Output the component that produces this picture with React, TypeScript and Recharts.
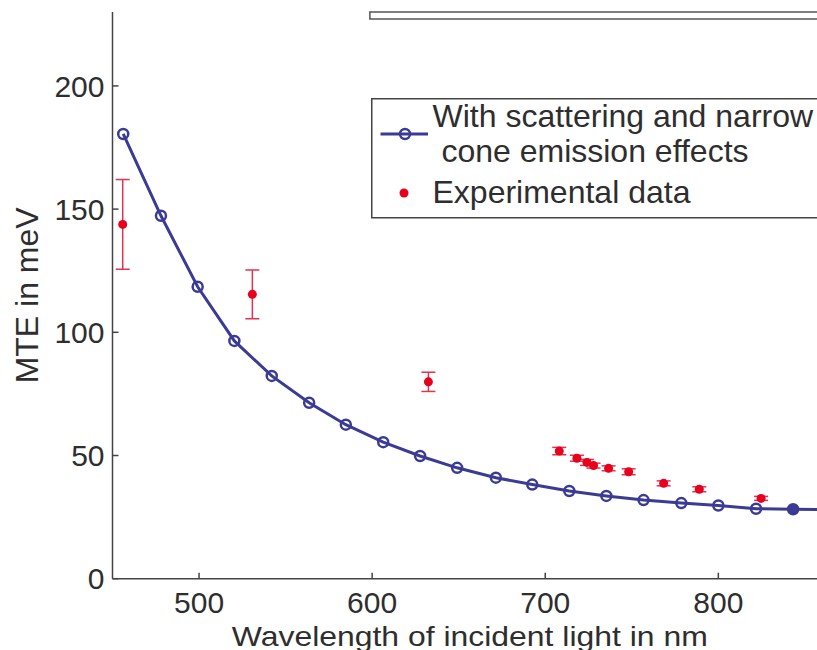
import React from 'react';
import {
  ComposedChart,
  Line,
  Scatter,
  XAxis,
  YAxis,
  ErrorBar,
  Legend,
  Label,
  ReferenceArea,
} from 'recharts';

// model curve (with scattering and narrow cone emission effects)
const modelWavelength = [
  456.2, 478.0, 499.2, 520.4, 542.0, 563.6, 584.8, 606.4, 627.7, 649.1,
  671.5, 692.5, 713.9, 735.3, 756.8, 778.6, 800.0, 821.8, 843.2, 864.6,
];
const modelMte = [
  180.5, 147.3, 118.5, 96.5, 82.3, 71.4, 62.5, 55.4, 49.8, 45.0,
  41.0, 38.2, 35.6, 33.6, 31.9, 30.7, 29.7, 28.4, 28.2, 28.0,
];

// experimental data with error bars
const expWavelength = [455.9, 530.8, 632.5, 708.1, 718.3, 724.1, 727.9, 736.6, 748.2, 768.4, 789.0, 824.7];
const expMte = [143.8, 115.4, 79.9, 51.8, 48.9, 47.2, 45.9, 44.8, 43.4, 38.7, 36.3, 32.6];
const expErr = [18.2, 9.9, 3.9, 1.5, 1.2, 1.2, 1.0, 1.0, 1.2, 1.0, 1.0, 0.8];

const xTicks = [500, 600, 700, 800];
const yTicks = [0, 50, 100, 150, 200];

const xTitle = 'Wavelength of incident light in nm';
const yTitle = 'MTE in meV';
const modelLabel = ['With scattering and narrow', ' cone emission effects'];
const expLabel = 'Experimental data';

const FONT = 'Arial, "Liberation Sans", Helvetica, sans-serif';
const BLUE = '#3b3b96';
const RED = '#e8001c';
const ERR_RED = '#e23350';
const AXIS = '#444';
const TEXT = '#2e2e2e';
const TICK_LEN = 6;
const X_GAP = 13;
const Y_GAP = 8;

const modelData = modelWavelength.map((x, i) => ({ x, y: modelMte[i] }));
const expData = expWavelength.map((x, i) => ({ x, y: expMte[i], err: expErr[i] }));

// tick marks point into the plot, matlab style
const BottomTick = (props: any) => {
  const { x, y, payload } = props;
  const axisY = y - X_GAP;
  return (
    <g>
      <line x1={x} y1={axisY} x2={x} y2={axisY - TICK_LEN} stroke={AXIS} strokeWidth={1.5} />
      <text x={x} y={y} dy="0.71em" textAnchor="middle" fontSize={30} fill={TEXT} fontFamily={FONT}>
        {payload.value}
      </text>
    </g>
  );
};

const TopTick = (props: any) => {
  const { x, y } = props;
  return <line x1={x} y1={y} x2={x} y2={y + TICK_LEN} stroke={AXIS} strokeWidth={1.5} />;
};

const LeftTick = (props: any) => {
  const { x, y, payload } = props;
  const axisX = x + Y_GAP;
  return (
    <g>
      <line x1={axisX} y1={y} x2={axisX + TICK_LEN} y2={y} stroke={AXIS} strokeWidth={1.5} />
      <text x={x} y={y} dy="0.355em" textAnchor="end" fontSize={30} fill={TEXT} fontFamily={FONT}>
        {payload.value}
      </text>
    </g>
  );
};

// the x title in the source is a bit wider than plain Arial, so stretch it
const XTitle = (props: any) => {
  const vb = props.viewBox || {};
  const cx = vb.x + vb.width / 2 + 5;
  return (
    <text
      x={cx - 238}
      y={vb.y + vb.height - 4.5}
      fontSize={28}
      fill={TEXT}
      fontFamily={FONT}
      textLength={476}
      lengthAdjust="spacingAndGlyphs"
    >
      {xTitle}
    </text>
  );
};

const renderModelDot = (props: any) => {
  const { cx, cy, index } = props;
  const filled = index === modelWavelength.length - 2;
  return (
    <circle
      key={`m-${index}`}
      cx={cx}
      cy={cy}
      r={5}
      fill={filled ? BLUE : 'none'}
      stroke={BLUE}
      strokeWidth={2.5}
    />
  );
};

const renderExpDot = (props: any) => <circle cx={props.cx} cy={props.cy} r={4.5} fill={RED} />;

const renderLegend = () => (
  <svg width={470} height={121} style={{ display: 'block' }}>
    <rect x={0.75} y={0.75} width={468} height={119} fill="#fff" stroke={AXIS} strokeWidth={1.5} />
    <line x1={9.5} y1={36} x2={57} y2={36} stroke={BLUE} strokeWidth={3} />
    <circle cx={34} cy={36} r={5} fill="none" stroke={BLUE} strokeWidth={2.5} />
    <text x={61.5} y={29} fontSize={32} fill={TEXT} fontFamily={FONT}>{modelLabel[0]}</text>
    <text x={61.5} y={64} fontSize={32} fill={TEXT} fontFamily={FONT} style={{ whiteSpace: 'pre' }}>
      {modelLabel[1]}
    </text>
    <circle cx={33} cy={95} r={4.5} fill={RED} />
    <text x={61.5} y={105} fontSize={32} fill={TEXT} fontFamily={FONT}>{expLabel}</text>
  </svg>
);

export default function App() {
  return (
    <div style={{ width: 817, height: 650, overflow: 'hidden', fontFamily: FONT, background: '#fff' }}>
      <style>{'body{margin:0}'}</style>
      <ComposedChart width={817} height={650} margin={{ top: 12, right: 0, bottom: 0, left: 0 }}>
        <XAxis
          xAxisId="bottom"
          dataKey="x"
          type="number"
          domain={[450, 857]}
          allowDataOverflow
          ticks={xTicks}
          height={71.3}
          tickSize={0}
          tickMargin={X_GAP}
          axisLine={{ stroke: AXIS, strokeWidth: 1.5 }}
          tickLine={false}
          tick={<BottomTick />}
        >
          <Label content={<XTitle />} />
        </XAxis>
        <XAxis
          xAxisId="top"
          orientation="top"
          dataKey="x"
          type="number"
          domain={[450, 857]}
          allowDataOverflow
          ticks={xTicks}
          height={0}
          tickSize={0}
          tickMargin={0}
          tick={<TopTick />}
          axisLine={{ stroke: AXIS, strokeWidth: 1.5 }}
          tickLine={false}
        />
        <YAxis
          dataKey="y"
          type="number"
          domain={[0, 230]}
          allowDataOverflow
          ticks={yTicks}
          width={112.5}
          tickSize={0}
          tickMargin={Y_GAP}
          axisLine={{ stroke: AXIS, strokeWidth: 1.5 }}
          tickLine={false}
          tick={<LeftTick />}
        >
          <Label
            value={yTitle}
            angle={-90}
            position="insideLeft"
            offset={27}
            style={{ fontSize: 32, fill: TEXT, fontFamily: FONT, textAnchor: 'middle' }}
          />
        </YAxis>
        <ReferenceArea
          xAxisId="bottom"
          x1={598.7}
          x2={900}
          y1={227.2}
          y2={230}
          ifOverflow="visible"
          fill="none"
          stroke="#555"
          strokeWidth={1.5}
        />
        <Legend
          layout="horizontal"
          verticalAlign="middle"
          align="center"
          wrapperStyle={{ left: 371.25, top: 98.25, width: 470, height: 121 }}
          content={renderLegend}
        />
        <Line
          xAxisId="bottom"
          data={modelData}
          dataKey="y"
          name={modelLabel.join('')}
          type="linear"
          stroke={BLUE}
          strokeWidth={3}
          dot={renderModelDot}
          activeDot={false}
          isAnimationActive={false}
        />
        <Scatter
          xAxisId="bottom"
          data={expData}
          dataKey="y"
          name={expLabel}
          fill={RED}
          shape={renderExpDot}
          isAnimationActive={false}
        >
          <ErrorBar dataKey="err" direction="y" width={7} stroke={ERR_RED} strokeWidth={1.5} />
        </Scatter>
      </ComposedChart>
    </div>
  );
}
